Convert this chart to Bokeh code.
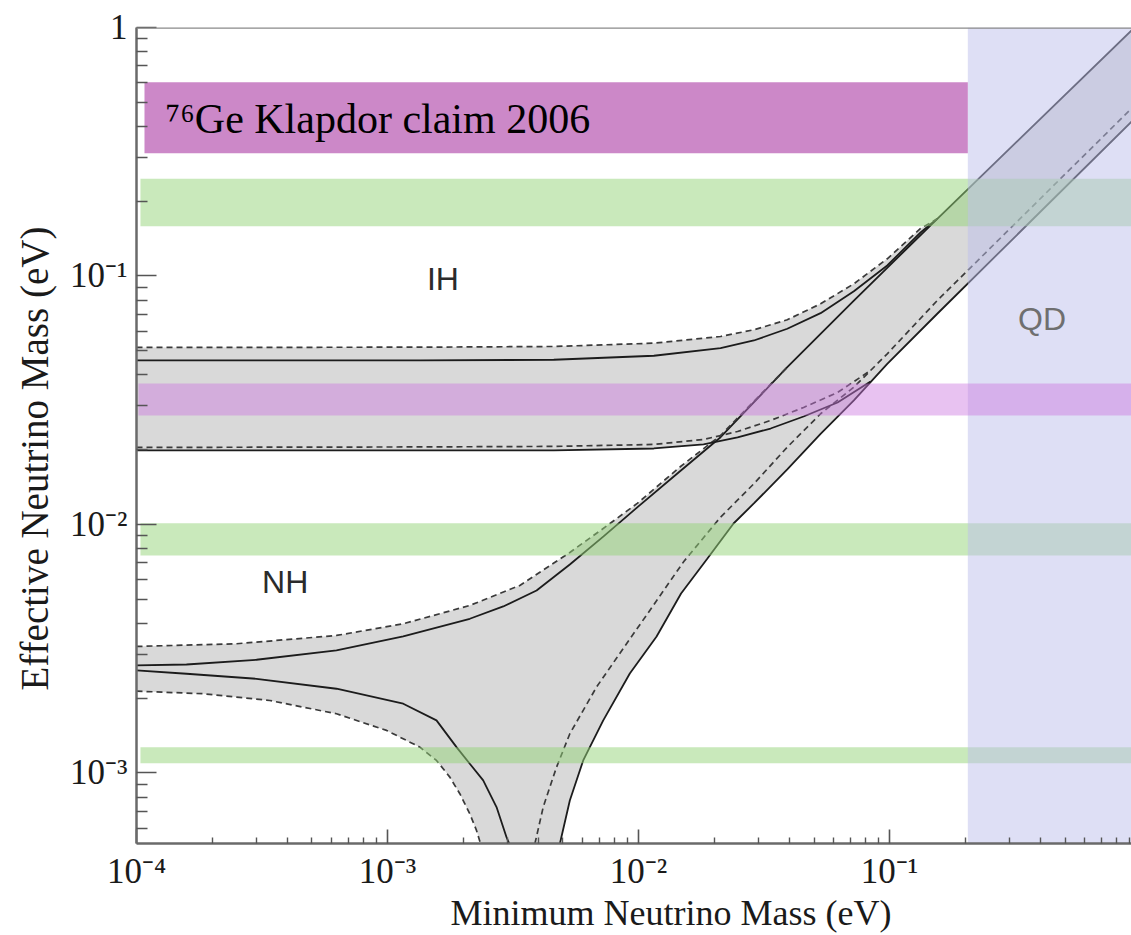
import math
from bokeh.plotting import figure
from bokeh.models import FixedTicker, Label, Range1d, Span, Title
from bokeh.embed import file_html
from bokeh.resources import INLINE

# ---------------- data (eV) ----------------
x_min, x_max = 1.0e-4, 0.92
y_min, y_max = 5.2e-4, 1.0

# Normal hierarchy - upper bound (solid / dashed)
nh_up_sol_x = [1.0e-4, 1.582e-4, 3.006e-4, 6.262e-4, 1.155e-3, 2.127e-3, 2.891e-3, 3.924e-3,
               5.324e-3, 7.254e-3, 9.88e-3, 1.443e-2, 2.122e-2, 3.913e-2, 7.208e-2, 0.1549, 0.92]
nh_up_sol_y = [2.707e-3, 2.732e-3, 2.854e-3, 3.112e-3, 3.542e-3, 4.173e-3, 4.677e-3, 5.425e-3,
               6.902e-3, 8.95e-3, 1.171e-2, 1.619e-2, 2.245e-2, 4.295e-2, 7.965e-2, 0.1699, 0.9726]
nh_up_dash_x = [1.0e-4, 2.503e-4, 6.262e-4, 1.155e-3, 2.127e-3, 3.365e-3, 5.324e-3, 7.057e-3,
                9.88e-3, 1.470e-2, 2.122e-2, 3.913e-2]
nh_up_dash_y = [3.229e-3, 3.310e-3, 3.575e-3, 3.984e-3, 4.721e-3, 5.682e-3, 7.716e-3, 9.46e-3,
                1.215e-2, 1.711e-2, 2.281e-2, 4.295e-2]

# Normal hierarchy - lower bound, left branch (down into the funnel)
nh_lo_sol_l_x = [1.0e-4, 1.582e-4, 3.006e-4, 6.262e-4, 1.155e-3, 1.567e-3, 1.883e-3, 2.127e-3,
                 2.405e-3, 2.718e-3, 2.979e-3, 3.054e-3]
nh_lo_sol_l_y = [2.585e-3, 2.507e-3, 2.393e-3, 2.182e-3, 1.899e-3, 1.627e-3, 1.270e-3, 1.089e-3,
                 9.33e-4, 7.29e-4, 5.51e-4, 5.19e-4]
nh_lo_dash_l_x = [1.0e-4, 1.843e-4, 3.397e-4, 6.262e-4, 9.91e-4, 1.345e-3, 1.567e-3, 1.771e-3,
                  1.941e-3, 2.127e-3, 2.262e-3, 2.347e-3]
nh_lo_dash_l_y = [2.134e-3, 2.083e-3, 1.957e-3, 1.730e-3, 1.483e-3, 1.270e-3, 1.123e-3, 9.62e-4,
                  8.25e-4, 6.85e-4, 5.87e-4, 5.19e-4]

# Normal hierarchy - lower bound, right branch (up out of the funnel)
nh_lo_sol_r_x = [4.859e-3, 5.324e-3, 6.020e-3, 7.234e-3, 9.23e-3, 1.180e-2, 1.477e-2, 1.878e-2,
                 2.390e-2, 2.880e-2, 3.913e-2, 5.311e-2, 7.208e-2, 9.79e-2, 0.1549, 0.92]
nh_lo_sol_r_y = [5.19e-4, 7.75e-4, 1.123e-3, 1.627e-3, 2.514e-3, 3.542e-3, 5.276e-3, 7.278e-3,
                 1.009e-2, 1.215e-2, 1.665e-2, 2.317e-2, 3.155e-2, 4.432e-2, 7.046e-2, 0.418]
nh_lo_dash_r_x = [3.864e-3, 4.171e-3, 4.713e-3, 5.324e-3, 6.80e-3, 8.69e-3, 1.109e-2, 1.515e-2,
                  2.122e-2, 2.880e-2, 3.913e-2, 5.311e-2, 7.208e-2, 9.79e-2, 0.1549, 0.92]
nh_lo_dash_r_y = [5.19e-4, 7.29e-4, 1.055e-3, 1.438e-3, 2.215e-3, 3.170e-3, 4.508e-3, 7.098e-3,
                  1.070e-2, 1.458e-2, 2.047e-2, 2.789e-2, 3.568e-2, 4.862e-2, 7.965e-2, 0.472]

# Inverted hierarchy
ih_up_x = [1.0e-4, 1.353e-3, 4.597e-3, 1.151e-2, 2.122e-2, 2.880e-2, 3.913e-2, 5.311e-2,
           7.208e-2, 9.79e-2, 0.1329, 0.1549]
ih_up_sol_y = [4.571e-2, 4.571e-2, 4.601e-2, 4.775e-2, 5.123e-2, 5.500e-2, 6.131e-2, 7.085e-2,
               8.687e-2, 0.1102, 0.1496, 0.1699]
ih_up_dash_y = [5.156e-2, 5.170e-2, 5.203e-2, 5.365e-2, 5.708e-2, 6.075e-2, 6.664e-2, 7.728e-2,
                9.30e-2, 0.1173, 0.1553, 0.1699]
ih_lo_x = [1.0e-4, 1.353e-3, 4.597e-3, 1.151e-2, 1.816e-2, 2.480e-2, 3.357e-2, 4.544e-2,
           6.206e-2, 8.40e-2]
ih_lo_sol_y = [1.985e-2, 1.985e-2, 1.985e-2, 2.022e-2, 2.099e-2, 2.239e-2, 2.433e-2, 2.720e-2,
               3.097e-2, 3.763e-2]
ih_lo_dash_y = [2.042e-2, 2.051e-2, 2.061e-2, 2.099e-2, 2.198e-2, 2.366e-2, 2.621e-2, 2.957e-2,
                3.398e-2, 4.166e-2]

# Horizontal experimental bands
klapdor_x = [1.076e-4, 0.205]
klapdor_y = [0.312, 0.602]
green_x0 = 1.037e-4
green_lo = [0.1586, 7.50e-3, 1.095e-3]
green_hi = [0.2461, 1.012e-2, 1.270e-3]
purple_x0 = 1.018e-4
purple_y = [0.02745, 0.03693]
qd_x0 = 0.205

# tick labels
x_major = [1e-4, 1e-3, 1e-2, 1e-1, 1.0]
x_labels = ["10\u207b\u2074", "10\u207b\u00b3", "10\u207b\u00b2", "10\u207b\u00b9", "1"]
y_major = [1e-3, 1e-2, 1e-1, 1.0]
y_labels = ["10\u207b\u00b3", "10\u207b\u00b2", "10\u207b\u00b9", "1"]
minor = [k * 10.0 ** e for e in range(-5, 1) for k in range(2, 10)]

x_title = "Minimum Neutrino Mass (eV)"
y_title = "Effective Neutrino Mass (eV)"

# region labels
region_labels = [("IH", 1.663e-3, 0.0973, "#2b2b2b"),
                 ("NH", 3.91e-4, 5.87e-3, "#2b2b2b"),
                 ("QD", 0.405, 0.0671, "#6f6f6f")]
klapdor_text = "\u2077\u2076Ge Klapdor claim 2006"
klapdor_text_pos = (1.305e-4, 0.3608)

# ---------------- figure ----------------
p = figure(width=1131, height=935, x_axis_type="log", y_axis_type="log",
           x_range=Range1d(x_min, x_max), y_range=Range1d(y_min, y_max),
           output_backend="svg", toolbar_location=None)
p.min_border_left = 136
p.min_border_right = 0
p.min_border_top = 27
p.min_border_bottom = 92
p.outline_line_color = None
p.xgrid.visible = False
p.ygrid.visible = False
p.background_fill_color = "white"
p.border_fill_color = "white"

# gray allowed regions (union of solid and dashed envelopes)
def poly(up_x, up_y, lo_x, lo_y):
    return list(up_x) + list(lo_x)[::-1], list(up_y) + list(lo_y)[::-1]

def extend(ax, ay, bx, by):
    last = ax[-1]
    ex = list(ax) + [x for x in bx if x > last]
    ey = list(ay) + [y for x, y in zip(bx, by) if x > last]
    return ex, ey

nhA_up = extend(nh_up_dash_x, nh_up_dash_y, nh_up_sol_x, nh_up_sol_y)
nhA_lo = (nh_lo_dash_l_x + nh_lo_dash_r_x, nh_lo_dash_l_y + nh_lo_dash_r_y)
nhB_lo = (nh_lo_sol_l_x + nh_lo_sol_r_x, nh_lo_sol_l_y + nh_lo_sol_r_y)
ihC_up = extend(ih_up_x, ih_up_dash_y, nh_up_sol_x, nh_up_sol_y)
ihD_up = extend(ih_up_x, ih_up_sol_y, nh_up_sol_x, nh_up_sol_y)
ihC_lo = extend(ih_lo_x, ih_lo_dash_y, nh_lo_dash_r_x, nh_lo_dash_r_y)
ihD_lo = extend(ih_lo_x, ih_lo_sol_y, nh_lo_sol_r_x, nh_lo_sol_r_y)

polys = [poly(*nhA_up, *nhA_lo), poly(nh_up_sol_x, nh_up_sol_y, *nhB_lo),
         poly(*ihC_up, *ihC_lo), poly(*ihD_up, *ihD_lo)]
p.patches([q[0] for q in polys], [q[1] for q in polys], fill_color="#d9d9d9", line_color=None)

# curves
sol = dict(line_color="#1c1c1c", line_width=1.8)
dsh = dict(line_color="#3a3a3a", line_width=1.7, line_dash="6 4")
p.line(nh_up_sol_x, nh_up_sol_y, **sol)
p.line(nh_up_dash_x, nh_up_dash_y, **dsh)
p.line(nh_lo_sol_l_x, nh_lo_sol_l_y, **sol)
p.line(nh_lo_sol_r_x, nh_lo_sol_r_y, **sol)
p.line(nh_lo_dash_l_x, nh_lo_dash_l_y, **dsh)
p.line(nh_lo_dash_r_x, nh_lo_dash_r_y, **dsh)
p.line(ih_up_x, ih_up_sol_y, **sol)
p.line(ih_up_x, ih_up_dash_y, **dsh)
p.line(ih_lo_x, ih_lo_sol_y, **sol)
p.line(ih_lo_x, ih_lo_dash_y, **dsh)

# green sensitivity bands
p.quad(left=[green_x0] * 3, right=[x_max] * 3, bottom=green_lo, top=green_hi,
       fill_color="#93d377", fill_alpha=0.5, line_color=None)
# quasi-degenerate region
p.quad(left=[qd_x0], right=[x_max], bottom=[y_min], top=[y_max],
       fill_color="#bdbfeb", fill_alpha=0.5, line_color=None)
# purple band
p.quad(left=[purple_x0], right=[x_max], bottom=[purple_y[0]], top=[purple_y[1]],
       fill_color="#cd78e1", fill_alpha=0.45, line_color=None)
# Klapdor claim
p.quad(left=[klapdor_x[0]], right=[klapdor_x[1]], bottom=[klapdor_y[0]], top=[klapdor_y[1]],
       fill_color="#cc88c8", line_color=None)

p.add_layout(Span(location=y_max, dimension="width", line_color="#8a8a8a", line_width=2.5))

# axes
for ax in (p.xaxis[0], p.yaxis[0]):
    ax.axis_line_color = "#6a6a6a"
    ax.axis_line_width = 2.5
    ax.major_tick_line_color = "#555555"
    ax.minor_tick_line_color = "#555555"
    ax.major_tick_line_width = 1.6
    ax.minor_tick_line_width = 1.4
    ax.major_tick_out = 0
    ax.minor_tick_out = 0
    ax.major_label_text_font = "Liberation Serif"
    ax.major_label_text_font_size = "35px"
    ax.major_label_text_color = "#1a1a1a"
p.xaxis.ticker = FixedTicker(ticks=x_major, minor_ticks=minor)
p.yaxis.ticker = FixedTicker(ticks=y_major, minor_ticks=minor)
p.xaxis.major_label_overrides = dict(zip(x_major, x_labels))
p.yaxis.major_label_overrides = dict(zip(y_major, y_labels))
p.xaxis.major_tick_in = 14
p.xaxis.minor_tick_in = 6
p.yaxis.major_tick_in = 20
p.yaxis.minor_tick_in = 11
p.xaxis.major_label_standoff = 8
p.yaxis.major_label_standoff = 9

# axis titles (side-panel titles)
p.add_layout(Title(text=x_title, align="left", offset=314, standoff=-5,
                   text_font="Liberation Serif", text_font_size="36px",
                   text_font_style="normal", text_color="#1a1a1a"), "below")
p.add_layout(Title(text=y_title, align="left", offset=153, standoff=19, vertical_align="top",
                   text_font="Liberation Serif", text_font_size="39px",
                   text_font_style="normal", text_color="#1a1a1a"), "left")

# region labels
for t, lx, ly, c in region_labels:
    p.add_layout(Label(x=lx, y=ly, text=t, text_font="Liberation Sans", text_font_size="32px",
                       text_color=c, text_align="center", text_baseline="middle"))
p.add_layout(Label(x=klapdor_text_pos[0], y=klapdor_text_pos[1], y_offset=19, text=klapdor_text,
                   text_font="Liberation Serif", text_font_size="42px", text_color="black",
                   text_align="left", text_baseline="alphabetic"))

open("out.html", "w").write(file_html(p, INLINE))
